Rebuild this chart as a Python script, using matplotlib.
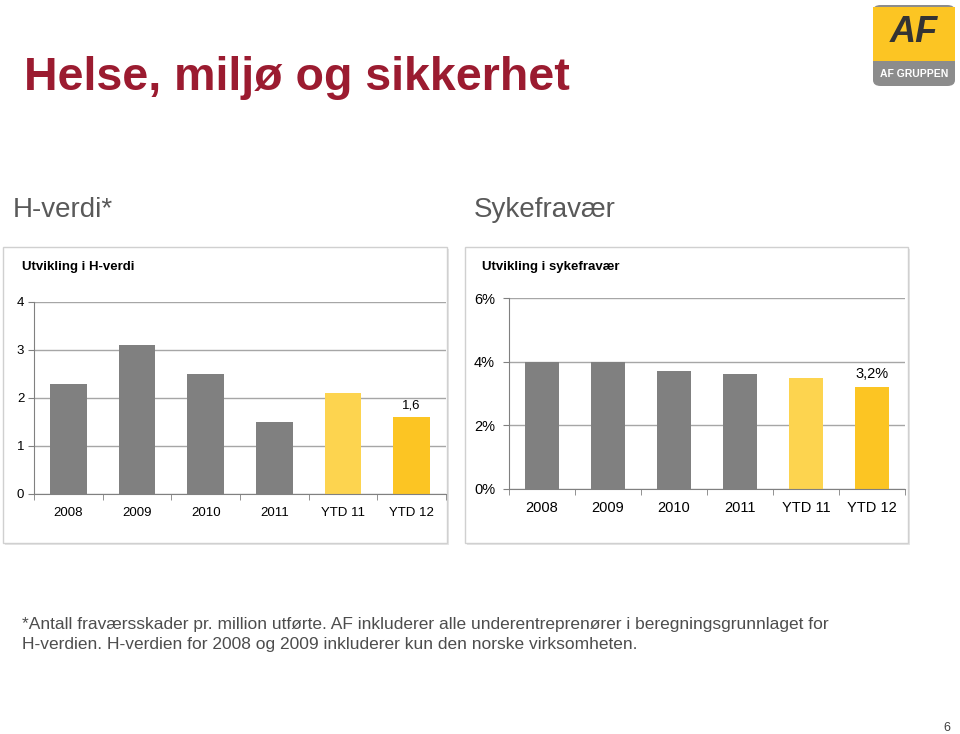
import matplotlib
matplotlib.use("Agg")
import matplotlib.pyplot as plt
from matplotlib.patches import Rectangle, FancyBboxPatch
import numpy as np

plt.rcParams['font.family'] = ['Liberation Sans', 'DejaVu Sans']

categories = ["2008", "2009", "2010", "2011", "YTD 11", "YTD 12"]
h_values = [2.3, 3.1, 2.5, 1.5, 2.1, 1.6]
sick_values = [4.0, 4.0, 3.7, 3.6, 3.5, 3.2]
bar_colors = ["#808080", "#808080", "#808080", "#808080", "#FDD44F", "#FCC523"]
h_ticks = [0, 1, 2, 3, 4]
sick_ticks = [0, 2, 4, 6]

W, H = 960, 734
fig = plt.figure(figsize=(9.6, 7.34), dpi=100)


def px(x0, y0, x1, y1):
    # pixel box (top-left origin) -> figure fraction rect
    return [x0 / W, 1 - y1 / H, (x1 - x0) / W, (y1 - y0) / H]


# title
fig.text(24 / W, 1 - 78 / H, "Helse, miljø og sikkerhet", fontsize=33.5,
         fontweight="bold", color="#9B1B30", va="center", ha="left")
fig.text(13 / W, 1 - 210 / H, "H-verdi*", fontsize=20, color="#595959", va="center")
fig.text(474 / W, 1 - 210 / H, "Sykefravær", fontsize=20, color="#595959", va="center")

# chart frames
for (x0, x1) in [(3, 447), (465, 908)]:
    fig.patches.append(Rectangle((x0 / W + 2 / W, 1 - 545 / H), (x1 - x0) / W, 296 / H,
                                 transform=fig.transFigure, facecolor="#e6e6e6",
                                 edgecolor="none", zorder=-2))
    fig.patches.append(Rectangle((x0 / W, 1 - 543 / H), (x1 - x0) / W, 296 / H,
                                 transform=fig.transFigure, facecolor="white",
                                 edgecolor="#d0d0d0", lw=1, zorder=-1))

fig.text(22 / W, 1 - 267 / H, "Utvikling i H-verdi", fontsize=9.5,
         fontweight="bold", va="center")
fig.text(482 / W, 1 - 267 / H, "Utvikling i sykefravær", fontsize=9.5,
         fontweight="bold", va="center")


def style(ax, ticks, labels, fs, ypad):
    x = np.arange(len(categories))
    ax.set_xlim(-0.5, len(categories) - 0.5)
    ax.set_ylim(ticks[0], ticks[-1])
    ax.set_yticks(ticks)
    ax.set_yticklabels(labels, fontsize=fs)
    ax.set_xticks(x)
    ax.set_xticklabels(categories, fontsize=fs)
    ax.set_xticks(np.arange(-0.5, len(categories)), minor=True)
    ax.tick_params(axis="x", which="major", length=0, pad=9)
    ax.tick_params(axis="x", which="minor", length=4, color="#808080", direction="out")
    ax.tick_params(axis="y", length=4, color="#808080", pad=ypad)
    ax.yaxis.grid(True, color="#a6a6a6", lw=1)
    ax.set_axisbelow(True)
    for s in ["top", "right"]:
        ax.spines[s].set_visible(False)
    for s in ["left", "bottom"]:
        ax.spines[s].set_color("#808080")
    ax.patch.set_alpha(0)


ax1 = fig.add_axes(px(34, 302, 446, 494))
x = np.arange(len(categories))
ax1.bar(x, h_values, width=0.53, color=bar_colors, zorder=2)
style(ax1, h_ticks, [str(t) for t in h_ticks], 9.5, 3)
ax1.text(x[-1], h_values[-1] + 0.12, "1,6", ha="center", va="bottom", fontsize=9.5)

ax2 = fig.add_axes(px(509, 298, 905, 489))
ax2.bar(x, sick_values, width=0.53, color=bar_colors, zorder=2)
style(ax2, sick_ticks, [f"{t}%" for t in sick_ticks], 10.5, 6)
ax2.text(x[-1], sick_values[-1] + 0.2, "3,2%", ha="center", va="bottom", fontsize=10.5)

# footnote
foot = ["*Antall fraværsskader pr. million utførte. AF inkluderer alle underentreprenører i beregningsgrunnlaget for",
        "H-verdien. H-verdien for 2008 og 2009 inkluderer kun den norske virksomheten."]
for i, line in enumerate(foot):
    fig.text(22 / W, 1 - (625 + 20 * i) / H, line, fontsize=12.5, color="#4d4d4d", va="center")

fig.text(950 / W, 1 - 728 / H, "6", fontsize=9, color="#404040", ha="right", va="center")

# logo
fig.patches.append(FancyBboxPatch((873 / W, 1 - 86 / H), 82 / W, 81 / H,
                                  boxstyle="round,pad=0,rounding_size=0.008",
                                  transform=fig.transFigure, facecolor="#8C8C8C",
                                  edgecolor="none"))
fig.patches.append(Rectangle((873 / W, 1 - 61 / H), 82 / W, 54 / H,
                             transform=fig.transFigure, facecolor="#FCC523",
                             edgecolor="none"))
fig.text(914 / W, 1 - 33 / H, "AF", fontsize=26, fontweight="bold", style="italic",
         color="#333333", ha="center", va="center")
fig.text(914 / W, 1 - 74 / H, "AF GRUPPEN", fontsize=7.5, fontweight="bold",
         color="white", ha="center", va="center")

fig.savefig("out.png", dpi=100)
